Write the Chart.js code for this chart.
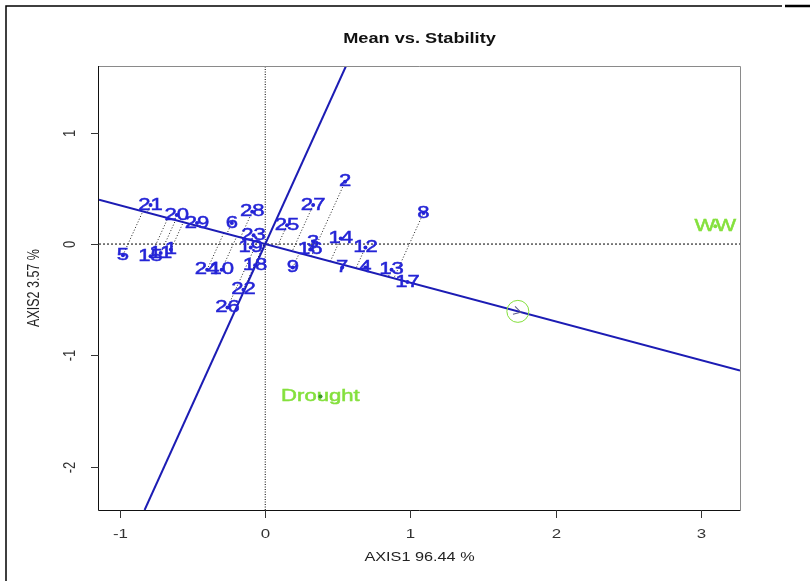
<!DOCTYPE html>
<html lang="en">
<head>
  <meta charset="UTF-8">
  <title>Mean vs. Stability</title>
  <style>
    html, body { margin: 0; padding: 0; background: #fff; }
    #wrap { position: relative; width: 810px; height: 581px; }
  </style>
</head>
<body>
  <div id="wrap"><canvas id="biplot" width="810" height="581"></canvas></div>

  <script src="https://cdn.jsdelivr.net/npm/chart.js"></script>
  <script>
    // genotype scores
    var genotypes = ['1','2','3','4','5','6','7','8','9','10','11','12','13','14','15',
                     '16','17','18','19','20','21','22','23','24','25','26','27','28','29'];
    var axis1 = [-0.65, 0.55, 0.33, 0.69, -0.98, -0.23, 0.53, 1.09, 0.19, -0.30, -0.72, 0.69, 0.87, 0.52, -0.79,
                 0.31, 0.98, -0.07, -0.10, -0.61, -0.79, -0.15, -0.08, -0.40, 0.15, -0.26, 0.33, -0.09, -0.47];
    var axis2 = [-0.05, 0.56, 0.02, -0.21, -0.10, 0.19, -0.21, 0.28, -0.21, -0.23, -0.08, -0.03, -0.23, 0.05, -0.11,
                 -0.05, -0.34, -0.19, -0.03, 0.26, 0.35, -0.41, 0.08, -0.23, 0.17, -0.57, 0.35, 0.29, 0.19];

    // environment scores
    var environments = ['WW', 'Drought'];
    var envAxis1 = [3.10, 0.38];
    var envAxis2 = [0.16, -1.37];

    var xTicks = [-1, 0, 1, 2, 3];
    var yTicks = [-2, -1, 0, 1];

    var xMin = -1.145, xMax = 3.27;
    var yMin = -2.39, yMax = 1.60;

    // average environment = mean of environment scores
    var avgX = (envAxis1[0] + envAxis1[1]) / 2;
    var avgY = (envAxis2[0] + envAxis2[1]) / 2;
    var slope = avgY / avgX;

    var BLUE = '#2424d6';
    var LINE_BLUE = '#1c1cb4';
    var GREEN = '#84e03c';
    var FONT = '"Liberation Sans", Arial, sans-serif';
    var STRETCH = 1.3;

    function seg(p1, p2, opts) {
      return Object.assign({
        data: [p1, p2],
        showLine: true,
        pointRadius: 0,
        borderWidth: 1,
        borderColor: '#000',
        fill: false
      }, opts);
    }

    var datasets = [];

    // genotype points
    datasets.push({
      label: 'genotypes',
      data: genotypes.map(function (g, i) { return { x: axis1[i], y: axis2[i] }; }),
      pointRadius: 2,
      pointBackgroundColor: BLUE,
      pointBorderWidth: 0,
      showLine: false
    });

    // environment points
    datasets.push({
      label: 'environments',
      data: environments.map(function (e, i) { return { x: envAxis1[i], y: envAxis2[i] }; }),
      pointRadius: 2,
      pointBackgroundColor: GREEN,
      pointBorderWidth: 0,
      showLine: false
    });

    // average environment circle
    datasets.push({
      label: 'avg',
      data: [{ x: avgX, y: avgY }],
      pointRadius: 11,
      pointBackgroundColor: 'rgba(0,0,0,0)',
      pointBorderColor: GREEN,
      pointBorderWidth: 1,
      showLine: false
    });

    // average environment axis and its perpendicular
    datasets.push(seg({ x: xMin, y: slope * xMin }, { x: xMax, y: slope * xMax },
      { borderColor: LINE_BLUE, borderWidth: 2 }));
    datasets.push(seg({ x: -slope * yMin, y: yMin }, { x: -slope * yMax, y: yMax },
      { borderColor: LINE_BLUE, borderWidth: 2 }));

    // projections of genotypes onto the AEA
    var aa = avgX * avgX + avgY * avgY;
    genotypes.forEach(function (g, i) {
      var t = (axis1[i] * avgX + axis2[i] * avgY) / aa;
      datasets.push(seg({ x: axis1[i], y: axis2[i] }, { x: t * avgX, y: t * avgY },
        { borderColor: '#222', borderDash: [1, 2] }));
    });

    // reference lines through origin
    datasets.push(seg({ x: xMin, y: 0 }, { x: xMax, y: 0 }, { borderDash: [2, 2] }));
    datasets.push(seg({ x: 0, y: yMin }, { x: 0, y: yMax }, { borderDash: [1, 1.5] }));

    function stretchText(ctx, str, x, y, sx, outline) {
      ctx.save();
      ctx.translate(x, y);
      ctx.scale(sx, 1);
      if (outline) ctx.strokeText(str, 0, 0);
      ctx.fillText(str, 0, 0);
      ctx.restore();
    }

    var decor = {
      id: 'decor',
      beforeDraw: function (chart) {
        var ctx = chart.ctx;
        ctx.save();
        ctx.fillStyle = '#fff';
        ctx.fillRect(0, 0, chart.width, chart.height);
        ctx.restore();
      },
      afterDatasetsDraw: function (chart) {
        var ctx = chart.ctx;
        var a = chart.chartArea;
        var xs = chart.scales.x, ys = chart.scales.y;
        ctx.save();

        // genotype labels
        ctx.fillStyle = BLUE;
        ctx.strokeStyle = BLUE;
        ctx.lineWidth = 0.5;
        ctx.font = '17px ' + FONT;
        ctx.textAlign = 'center';
        ctx.textBaseline = 'middle';
        var gm = chart.getDatasetMeta(0).data;
        genotypes.forEach(function (g, i) {
          stretchText(ctx, g, gm[i].x, gm[i].y, STRETCH, true);
        });

        // environment labels
        ctx.fillStyle = GREEN;
        ctx.strokeStyle = GREEN;
        ctx.font = '17px ' + FONT;
        var em = chart.getDatasetMeta(1).data;
        environments.forEach(function (e, i) {
          stretchText(ctx, e, em[i].x, em[i].y, STRETCH, true);
        });
        // redraw dot on top of Drought label
        ctx.fillStyle = '#3a9a2a';
        ctx.beginPath();
        ctx.arc(em[1].x, em[1].y, 2, 0, Math.PI * 2);
        ctx.fill();

        // arrow head inside the average environment circle
        var cp = chart.getDatasetMeta(2).data[0];
        var ang = Math.atan2(ys.getPixelForValue(avgY) - ys.getPixelForValue(0),
                             xs.getPixelForValue(avgX) - xs.getPixelForValue(0));
        ctx.save();
        ctx.translate(cp.x, cp.y);
        ctx.rotate(ang);
        ctx.strokeStyle = '#5a5a8a';
        ctx.lineWidth = 1;
        ctx.beginPath();
        ctx.moveTo(-4, -4);
        ctx.lineTo(3, 0);
        ctx.lineTo(-4, 4);
        ctx.stroke();
        ctx.restore();

        // plot box
        ctx.lineWidth = 1;
        ctx.strokeStyle = '#8a8a8a';
        ctx.beginPath();
        ctx.moveTo(a.left, a.top + 0.5);
        ctx.lineTo(a.right + 0.5, a.top + 0.5);
        ctx.lineTo(a.right + 0.5, a.bottom);
        ctx.stroke();
        ctx.strokeStyle = '#111';
        ctx.beginPath();
        ctx.moveTo(a.left - 0.5, a.top);
        ctx.lineTo(a.left - 0.5, a.bottom + 0.5);
        ctx.lineTo(a.right + 0.5, a.bottom + 0.5);
        ctx.stroke();

        // x axis ticks and labels
        ctx.fillStyle = '#333';
        ctx.font = '13px ' + FONT;
        ctx.textAlign = 'center';
        ctx.textBaseline = 'middle';
        xTicks.forEach(function (v) {
          var px = Math.round(xs.getPixelForValue(v)) + 0.5;
          ctx.strokeStyle = '#333';
          ctx.beginPath();
          ctx.moveTo(px, a.bottom);
          ctx.lineTo(px, a.bottom + 8);
          ctx.stroke();
          stretchText(ctx, String(v), px, a.bottom + 24, STRETCH);
        });

        // y axis ticks and rotated labels
        yTicks.forEach(function (v) {
          var py = Math.round(ys.getPixelForValue(v)) + 0.5;
          ctx.strokeStyle = '#333';
          ctx.beginPath();
          ctx.moveTo(a.left, py);
          ctx.lineTo(a.left - 8, py);
          ctx.stroke();
          ctx.save();
          ctx.translate(a.left - 29, py);
          ctx.rotate(-Math.PI / 2);
          ctx.scale(1, STRETCH);
          ctx.fillText(String(v), 0, 0);
          ctx.restore();
        });

        // axis titles
        var cx = (a.left + a.right) / 2;
        var cy = (a.top + a.bottom) / 2;
        ctx.fillStyle = '#222';
        ctx.font = '12.5px ' + FONT;
        stretchText(ctx, 'AXIS1 96.44 %', cx, a.bottom + 48, STRETCH);
        ctx.save();
        ctx.translate(a.left - 64, cy);
        ctx.rotate(-Math.PI / 2);
        ctx.scale(1, STRETCH);
        ctx.fillText('AXIS2 3.57 %', 0, 0);
        ctx.restore();

        // title
        ctx.fillStyle = '#111';
        ctx.font = 'bold 14px ' + FONT;
        stretchText(ctx, 'Mean vs. Stability', cx, 39, STRETCH);

        // outer frame
        ctx.strokeStyle = '#000';
        ctx.lineWidth = 1.5;
        ctx.beginPath();
        ctx.moveTo(6, chart.height);
        ctx.lineTo(6, 6);
        ctx.lineTo(782, 6);
        ctx.stroke();
        ctx.lineWidth = 2.5;
        ctx.beginPath();
        ctx.moveTo(785, 6);
        ctx.lineTo(810, 6);
        ctx.stroke();

        ctx.restore();
      }
    };

    var chart = new Chart(document.getElementById('biplot').getContext('2d'), {
      type: 'scatter',
      data: { datasets: datasets },
      options: {
        responsive: false,
        animation: false,
        events: [],
        layout: { padding: { left: 99, top: 66, right: 70, bottom: 71 } },
        scales: {
          x: { type: 'linear', display: false, min: xMin, max: xMax },
          y: { type: 'linear', display: false, min: yMin, max: yMax }
        },
        plugins: {
          legend: { display: false },
          tooltip: { enabled: false },
          title: { display: false }
        }
      },
      plugins: [decor]
    });
  </script>
</body>
</html>
